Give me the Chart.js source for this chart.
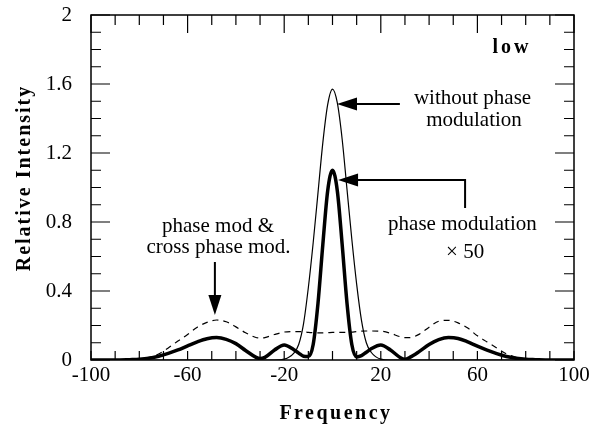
<!DOCTYPE html>
<html>
<head>
<meta charset="utf-8">
<script src="https://cdn.jsdelivr.net/npm/chart.js@4.4.1/dist/chart.umd.min.js"></script>
<style>
  body { margin: 0; background: #fff; }
  canvas { display: block; }
</style>
</head>
<body>
<canvas id="myChart" width="595" height="430"></canvas>
<script>
// frequency grid shared by all three spectra
var freq = [-100, -90, -84, -80, -76, -72, -68, -64, -60, -56, -52, -48, -44, -40, -36, -32, -30, -28, -24,
    -20, -16, -14, -12, -10, -8, -6, -4, -2, 0, 2, 4, 6, 8, 10, 12, 14, 16, 20,
    24, 28, 30, 32, 36, 40, 44, 48, 52, 56, 60, 64, 68, 72, 76, 80, 84, 90, 100];
// without phase modulation (thin)
var noPhaseMod = [0, 0, 0, 0, 0, 0, 0, 0, 0, 0, 0, 0, 0, 0, 0, 0, 0, 0, 0,
    0.005, 0.04, 0.09, 0.21, 0.42, 0.68, 0.97, 1.26, 1.48, 1.57, 1.49, 1.28, 0.99, 0.70, 0.44, 0.23, 0.10, 0.045, 0.005,
    0, 0, 0, 0, 0, 0, 0, 0, 0, 0, 0, 0, 0, 0, 0, 0, 0, 0, 0];
// phase modulation x 50 (thick)
var phaseMod50 = [0, 0, 0.002, 0.004, 0.01, 0.022, 0.038, 0.058, 0.082, 0.105, 0.123, 0.13, 0.12, 0.095, 0.055, 0.018, 0.008, 0.015, 0.058,
    0.087, 0.06, 0.04, 0.022, 0.02, 0.09, 0.33, 0.67, 0.98, 1.10, 0.98, 0.67, 0.33, 0.09, 0.018, 0.025, 0.045, 0.065, 0.087,
    0.058, 0.015, 0.005, 0.015, 0.05, 0.09, 0.118, 0.13, 0.125, 0.105, 0.08, 0.057, 0.037, 0.02, 0.01, 0.004, 0.002, 0, 0];
// phase mod & cross phase mod (dashed)
var crossPhaseMod = [0, 0, 0.002, 0.006, 0.015, 0.035, 0.07, 0.11, 0.148, 0.19, 0.218, 0.232, 0.222, 0.192, 0.158, 0.132, 0.127, 0.13, 0.148,
    0.162, 0.165, 0.165, 0.163, 0.16, 0.158, 0.157, 0.157, 0.158, 0.16, 0.16, 0.16, 0.16, 0.162, 0.165, 0.167, 0.168, 0.168, 0.167,
    0.155, 0.135, 0.13, 0.13, 0.15, 0.19, 0.225, 0.23, 0.215, 0.185, 0.14, 0.105, 0.07, 0.036, 0.016, 0.006, 0.002, 0, 0];

var xTickLabels = [-100, -60, -20, 20, 60, 100];
var yTickLabels = [0, 0.4, 0.8, 1.2, 1.6, 2];

var SERIF = '"Liberation Serif", "Times New Roman", serif';

function points(ys) {
    return freq.map(function (f, i) { return { x: f, y: ys[i] }; });
}

function arrowHead(ctx, x, y, dx, dy) {
    // filled triangle pointing along (dx, dy)
    var len = 20, half = 6.5;
    var bx = x - dx * len, by = y - dy * len;
    ctx.beginPath();
    ctx.moveTo(x, y);
    ctx.lineTo(bx - dy * half, by + dx * half);
    ctx.lineTo(bx + dy * half, by - dx * half);
    ctx.closePath();
    ctx.fill();
}

var decorations = {
    id: 'decorations',
    beforeDatasetsDraw: function (chart) {
        var ctx = chart.ctx, a = chart.chartArea;
        var xs = chart.scales.x, ys = chart.scales.y;
        ctx.save();
        ctx.strokeStyle = '#000';
        ctx.lineWidth = 1.5;
        ctx.strokeRect(a.left, a.top, a.right - a.left, a.bottom - a.top);
        ctx.lineWidth = 1.2;
        ctx.beginPath();
        // inner ticks every 10 on x, every 0.1 on y
        for (var v = -100; v <= 100; v += 10) {
            var px = xs.getPixelForValue(v);
            var major = xTickLabels.indexOf(v) >= 0;
            ctx.moveTo(px, a.top); ctx.lineTo(px, a.top + (major ? 18 : 10));
            ctx.moveTo(px, a.bottom); ctx.lineTo(px, a.bottom - 9);
        }
        for (var k = 0; k <= 20; k++) {
            var py = ys.getPixelForValue(k / 10);
            var len = (k % 4 === 0) ? 19 : 10;
            ctx.moveTo(a.left, py); ctx.lineTo(a.left + len, py);
            ctx.moveTo(a.right, py); ctx.lineTo(a.right - len, py);
        }
        ctx.stroke();
        ctx.restore();
    },
    afterDraw: function (chart) {
        var ctx = chart.ctx;
        var X = function (v) { return chart.scales.x.getPixelForValue(v); };
        var Y = function (v) { return chart.scales.y.getPixelForValue(v); };
        ctx.save();
        ctx.fillStyle = '#000';
        ctx.strokeStyle = '#000';

        // axis titles
        ctx.font = 'bold 20px ' + SERIF;
        ctx.textAlign = 'center';
        ctx.textBaseline = 'alphabetic';
        ctx.letterSpacing = '2.5px';
        ctx.fillText('Frequency', 336, 419);
        ctx.save();
        ctx.translate(30, 178);
        ctx.rotate(-Math.PI / 2);
        ctx.letterSpacing = '2px';
        ctx.fillText('Relative Intensity', 0, 0);
        ctx.restore();

        ctx.letterSpacing = '3px';
        ctx.fillText('low', X(74.3), Y(1.78));
        ctx.letterSpacing = '0px';

        // labels
        ctx.font = '21px ' + SERIF;
        ctx.fillText('without phase', X(58), Y(1.484));
        ctx.fillText('modulation', X(58.6), Y(1.357));
        ctx.fillText('phase modulation', X(53.8), Y(0.754));
        ctx.fillText('\u00d7 50', X(54.9), Y(0.59));
        ctx.fillText('phase mod &', X(-47.4), Y(0.742));
        ctx.fillText('cross phase mod.', X(-47.2), Y(0.62));

        // arrows
        ctx.lineWidth = 2;
        ctx.beginPath();
        ctx.moveTo(X(27.9), Y(1.484)); ctx.lineTo(X(1.86) + 10, Y(1.484));
        ctx.moveTo(X(54.9), Y(0.881)); ctx.lineTo(X(54.9), Y(1.043)); ctx.lineTo(X(2.3) + 10, Y(1.043));
        ctx.moveTo(X(-48.7), Y(0.568)); ctx.lineTo(X(-48.7), Y(0.261) - 10);
        ctx.stroke();
        arrowHead(ctx, X(1.86), Y(1.484), -1, 0);
        arrowHead(ctx, X(2.3), Y(1.043), -1, 0);
        arrowHead(ctx, X(-48.7), Y(0.261), 0, 1);
        ctx.restore();
    }
};

var ctx = document.getElementById('myChart');
var chart = new Chart(ctx, {
    type: 'line',
    data: {
        datasets: [
            {
                label: 'phase modulation x 50',
                data: points(phaseMod50),
                borderColor: '#000',
                borderWidth: 3.5,
                cubicInterpolationMode: 'monotone',
                fill: false
            },
            {
                label: 'without phase modulation',
                data: points(noPhaseMod),
                borderColor: '#000',
                borderWidth: 1.2,
                cubicInterpolationMode: 'monotone',
                fill: false
            },
            {
                label: 'phase mod & cross phase mod.',
                data: points(crossPhaseMod),
                borderColor: '#000',
                borderWidth: 1.2,
                borderDash: [6, 5],
                cubicInterpolationMode: 'monotone',
                fill: false
            }
        ]
    },
    options: {
        responsive: false,
        animation: false,
        devicePixelRatio: 1,
        layout: { padding: { top: 15, right: 21, left: 0, bottom: 0 } },
        elements: { point: { radius: 0 } },
        plugins: {
            legend: { display: false },
            tooltip: { enabled: false }
        },
        scales: {
            x: {
                type: 'linear',
                min: -100,
                max: 100,
                grid: { display: false, drawTicks: false },
                border: { display: false },
                afterBuildTicks: function (scale) {
                    scale.ticks = xTickLabels.map(function (v) { return { value: v }; });
                },
                afterFit: function (scale) {
                    scale.height = 70;
                    scale.paddingLeft = 0;
                    scale.paddingRight = 0;
                },
                ticks: {
                    autoSkip: false,
                    maxRotation: 0,
                    padding: 3,
                    color: '#000',
                    font: { family: SERIF, size: 21 },
                    callback: function (v) { return String(v); }
                }
            },
            y: {
                min: 0,
                max: 2,
                grid: { display: false, drawTicks: false },
                border: { display: false },
                afterBuildTicks: function (scale) {
                    scale.ticks = yTickLabels.map(function (v) { return { value: v }; });
                },
                afterFit: function (scale) {
                    scale.width = 91;
                    scale.paddingTop = 0;
                    scale.paddingBottom = 0;
                },
                ticks: {
                    autoSkip: false,
                    padding: 19,
                    color: '#000',
                    font: { family: SERIF, size: 21 },
                    callback: function (v) { return String(Math.round(v * 10) / 10); }
                }
            }
        }
    },
    plugins: [decorations]
});
</script>
</body>
</html>
